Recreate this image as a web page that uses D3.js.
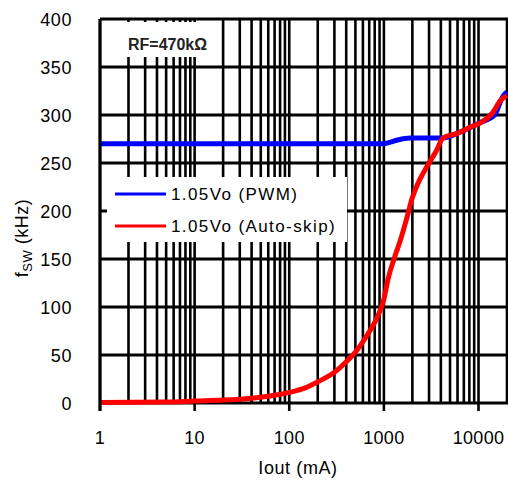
<!DOCTYPE html>
<html>
<head>
<meta charset="utf-8">
<script src="https://cdn.jsdelivr.net/npm/d3@7"></script>
<style>
  html, body { margin: 0; padding: 0; background: #fff; }
  svg { display: block; font-family: "Liberation Sans", Arial, sans-serif; }
</style>
</head>
<body>
<div class="main"></div>
<script>
// Chart values
let xTicks = [1, 10, 100, 1000, 10000];
let yTicks = [0, 50, 100, 150, 200, 250, 300, 350, 400];
let seriesNames = ["1.05Vo (PWM)", "1.05Vo (Auto-skip)"];
let seriesColors = ["#0000ff", "#ff0000"];

// PWM curve (Iout mA, fsw kHz)
let pwmI = [1, 10, 100, 500, 1000, 1100, 1400, 1900, 3000, 4200, 6300, 10300, 14800, 18000, 20000];
let pwmF = [270, 270, 270, 270, 270, 271, 274, 276, 276, 276, 282, 292, 300, 319, 324];

// Auto-skip curve
let skipI = [1, 5, 10, 20, 40, 70, 100, 150, 200, 300, 400, 500, 650, 800, 900, 1000, 1100, 1300, 1500, 1750, 2000, 2400, 2840, 3600, 4200, 6000, 8000, 11000, 14000, 17000, 20000];
let skipF = [0.5, 1, 2, 3, 5, 8, 11, 16, 22, 32, 43, 53, 69, 84, 95, 108, 128, 152, 170, 193, 214, 233, 246, 263, 276, 281, 287, 293, 302, 315, 320];

let width = 508, height = 481;
let svg = d3.select("div.main").append("svg")
    .attr("width", width)
    .attr("height", height);

// plot area edges
let pLeft = 100, pRight = 507, pTop = 19, pBottom = 403;

let x = d3.scaleLog().domain([1, 20000]).range([pLeft, pRight]);
let y = d3.scaleLinear().domain([0, 400]).range([pBottom, pTop]);

// Vertical grid: every 1..9 of each decade
let vLines = [];
xTicks.forEach(function(d) {
    for (let k = 1; k <= 9; k++) {
        if (d * k <= 20000) vLines.push(d * k);
    }
});

let grid = svg.append("g");
grid.selectAll("line.v")
    .data(vLines)
    .enter().append("line")
    .attr("x1", d => x(d)).attr("x2", d => x(d))
    .attr("y1", pTop)
    .attr("y2", d => xTicks.indexOf(d) >= 0 ? pBottom + 8 : pBottom)
    .attr("stroke", "#000")
    .attr("stroke-width", 2.6);

grid.selectAll("line.h")
    .data(yTicks)
    .enter().append("line")
    .attr("x1", pLeft).attr("x2", width)
    .attr("y1", d => y(d)).attr("y2", d => y(d))
    .attr("stroke", "#000")
    .attr("stroke-width", 2.8);

// White box for the annotation
svg.append("rect")
    .attr("x", pLeft + 2).attr("y", 22)
    .attr("width", 116).attr("height", 35)
    .attr("fill", "#fff");

svg.append("text")
    .attr("x", 128).attr("y", 50)
    .attr("font-size", 16)
    .attr("font-weight", "bold")
    .attr("fill", "#222")
    .text("RF=470kΩ");

// Curves
let line = d3.line()
    .x(d => x(d[0]))
    .y(d => y(d[1]))
    .curve(d3.curveMonotoneX);

let pwm = pwmI.map((v, i) => [v, pwmF[i]]);
let skip = skipI.map((v, i) => [v, skipF[i]]);

svg.append("path")
    .datum(pwm)
    .attr("d", line)
    .attr("fill", "none")
    .attr("stroke", seriesColors[0])
    .attr("stroke-width", 5);

svg.append("path")
    .datum(skip)
    .attr("d", line)
    .attr("fill", "none")
    .attr("stroke", seriesColors[1])
    .attr("stroke-width", 5);

// Legend
let lg = svg.append("g");
lg.append("rect")
    .attr("x", 107).attr("y", 177)
    .attr("width", 240).attr("height", 65)
    .attr("fill", "#fff");

seriesNames.forEach(function(name, i) {
    let ly = 194 + i * 32;
    lg.append("line")
        .attr("x1", 115).attr("x2", 166)
        .attr("y1", ly).attr("y2", ly)
        .attr("stroke", seriesColors[i])
        .attr("stroke-width", 3);
    lg.append("text")
        .attr("x", 171).attr("y", ly + 6)
        .attr("font-size", 17)
        .attr("letter-spacing", 1.4)
        .attr("fill", "#000")
        .text(name);
});

// Left axis line
svg.append("line")
    .attr("x1", pLeft).attr("x2", pLeft)
    .attr("y1", pTop).attr("y2", pBottom + 8)
    .attr("stroke", "#000").attr("stroke-width", 3);

// Tick labels
svg.selectAll("text.yt")
    .data(yTicks)
    .enter().append("text")
    .attr("x", 72)
    .attr("y", d => y(d) + 6.5)
    .attr("text-anchor", "end")
    .attr("font-size", 18)
    .attr("letter-spacing", 0.6)
    .text(d => d);

svg.selectAll("text.xt")
    .data(xTicks)
    .enter().append("text")
    .attr("x", d => x(d))
    .attr("y", 444)
    .attr("text-anchor", "middle")
    .attr("font-size", 18)
    .attr("letter-spacing", 0.3)
    .text(d => d);

// Axis titles
svg.append("text")
    .attr("x", 298).attr("y", 474)
    .attr("text-anchor", "middle")
    .attr("font-size", 18)
    .attr("letter-spacing", 0.6)
    .text("Iout (mA)");

let yt = svg.append("text")
    .attr("transform", "translate(28,238) rotate(-90)")
    .attr("text-anchor", "middle")
    .attr("font-size", 18)
    .attr("letter-spacing", 0.5);
yt.append("tspan").text("f");
yt.append("tspan").attr("font-size", 13).attr("dy", 4).text("SW");
yt.append("tspan").attr("dy", -4).text(" (kHz)");
</script>
</body>
</html>
